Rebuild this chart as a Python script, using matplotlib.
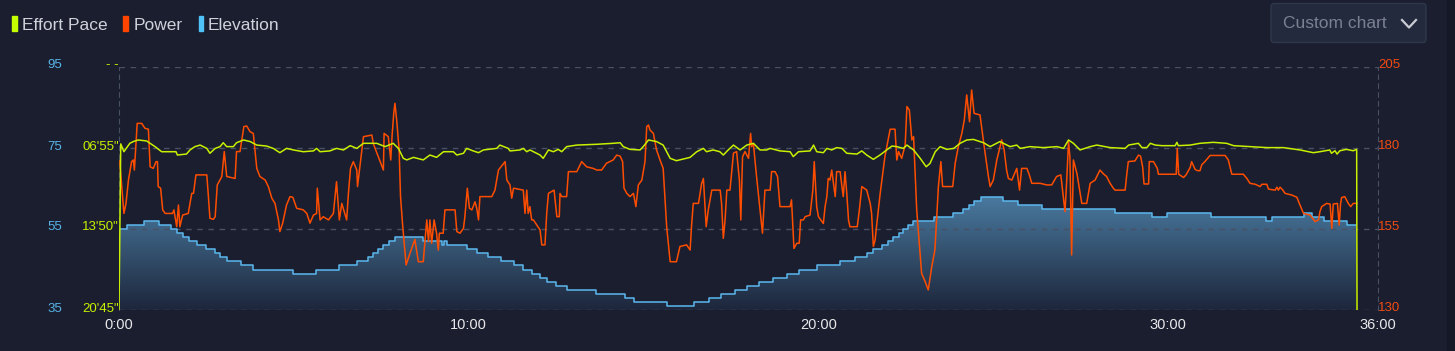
import numpy as np
import matplotlib
matplotlib.use("Agg")
import matplotlib.pyplot as plt
from matplotlib.colors import LinearSegmentedColormap
from matplotlib.patches import Rectangle, FancyBboxPatch
from matplotlib.lines import Line2D
from matplotlib.transforms import Affine2D, ScaledTranslation

plt.rcParams['font.family'] = ['Liberation Sans', 'DejaVu Sans']

# time in minutes, pace in seconds per km
pace_t = [0.0, 0.05, 0.14, 0.31, 0.41, 0.55, 0.79, 0.89, 1.03, 1.22, 1.63, 1.67, 1.93, 2.03, 2.17, 2.32, 2.51, 2.60, 2.75, 2.89,
          2.98, 3.08, 3.27, 3.36, 3.56, 3.75, 3.94, 4.22, 4.41, 4.60, 4.79, 4.99, 5.27, 5.56, 5.65, 5.75, 6.03, 6.22, 6.42, 6.61,
          6.80, 6.99, 7.37, 7.61, 7.84, 7.99, 8.13, 8.23, 8.42, 8.70,
          8.89, 9.08, 9.28, 9.56, 9.66, 9.85, 9.94, 10.13, 10.28, 10.42, 10.80, 10.89, 11.13, 11.18, 11.47, 11.56, 11.66, 11.75, 11.85, 12.04,
          12.13, 12.28, 12.42, 12.56, 12.66, 12.80, 13.09, 13.66, 14.13, 14.33, 14.42, 14.61, 14.90, 14.99, 15.14, 15.37, 15.56, 15.76, 15.94, 16.14,
          16.33, 16.52, 16.71, 16.80, 16.99, 17.18, 17.28, 17.42, 17.57, 17.76, 17.95, 18.14, 18.33, 18.52,
          18.62, 18.90, 19.19, 19.28, 19.43, 19.76, 19.86, 19.95, 20.14, 20.24, 20.38, 20.52, 20.67, 20.81, 21.10, 21.24, 21.38, 21.57, 21.76, 21.95,
          22.10, 22.24, 22.43, 22.53, 22.72, 22.91, 23.08, 23.19, 23.34, 23.48, 23.67, 23.87, 24.05, 24.24, 24.43, 24.72, 24.91, 25.19, 25.48, 25.67,
          25.77, 26.05, 26.43, 26.82, 27.01, 27.15, 27.29, 27.48, 27.77, 27.96,
          28.05, 28.34, 28.77, 28.87, 29.15, 29.25, 29.39, 29.49, 29.63, 29.82, 30.20, 30.25, 30.29, 30.63, 30.91, 31.29, 31.67, 31.87, 32.34, 32.82,
          33.29, 33.77, 34.15, 34.34, 34.62, 34.67, 34.77, 34.83, 34.91, 35.10, 35.29, 35.39, 35.40]
pace_s = [1245, 394, 434, 391, 382, 374, 379, 391, 408, 434, 434, 451, 446, 425, 408, 400, 417, 442, 417, 408,
          388, 408, 408, 388, 374, 382, 400, 405, 417, 439, 417, 425, 434, 430, 417, 434, 430, 417, 425, 403,
          417, 391, 391, 408, 391, 417, 468, 476, 463, 476,
          451, 463, 434, 434, 451, 442, 417, 430, 439, 425, 417, 400, 417, 430, 425, 417, 434, 425, 434, 451,
          468, 425, 434, 422, 434, 408, 400, 396, 391, 388, 408, 422, 425, 408, 374, 382, 400, 468, 480, 471,
          463, 434, 417, 434, 425, 434, 451, 425, 400, 425, 400, 391, 425, 425,
          417, 430, 434, 459, 434, 430, 400, 434, 439, 417, 425, 413, 417, 442, 446, 430, 451, 473, 451, 425,
          405, 408, 417, 400, 425, 468, 511, 494, 434, 408, 422, 417, 391, 374, 371, 388, 408, 382, 408, 400,
          417, 408, 413, 408, 417, 374, 391, 425, 408, 400,
          403, 413, 417, 400, 391, 413, 413, 391, 400, 403, 403, 386, 403, 400, 391, 386, 391, 403, 408, 413,
          413, 425, 439, 434, 425, 442, 429, 446, 429, 422, 429, 422, 1245]

power_t = [0.02, 0.14, 0.20, 0.27, 0.36, 0.41, 0.44, 0.52, 0.65, 0.74, 0.84, 0.89, 0.98, 1.06, 1.10, 1.12, 1.19, 1.25, 1.32, 1.53,
           1.57, 1.65, 1.70, 1.74, 1.82, 1.98, 2.08, 2.13, 2.20, 2.51, 2.55, 2.60, 2.70, 2.75, 2.81, 2.94, 3.01, 3.08, 3.32, 3.36,
           3.46, 3.57, 3.65, 3.75, 3.84, 3.94, 4.03, 4.18, 4.27, 4.37, 4.46, 4.56, 4.60, 4.68, 4.79, 4.89, 4.97, 5.08, 5.27, 5.37,
           5.46, 5.56, 5.65, 5.67, 5.75, 5.84, 5.99, 6.13, 6.22, 6.30, 6.37, 6.51, 6.56, 6.62, 6.70, 6.80, 6.82, 6.99, 7.23, 7.27,
           7.56, 7.58, 7.70, 7.77, 7.81, 7.86, 7.89, 7.94, 8.01, 8.05, 8.11, 8.21, 8.32, 8.46, 8.56, 8.70, 8.80, 8.85,
           8.89, 8.94, 9.01, 9.08, 9.13, 9.16, 9.27, 9.32, 9.61, 9.66, 9.75, 9.85, 9.89, 9.96, 10.02, 10.09, 10.18, 10.23, 10.28, 10.32,
           10.66, 10.75, 10.85, 11.04, 11.09, 11.18, 11.23, 11.28, 11.56, 11.61, 11.66, 11.70, 11.75, 11.80, 11.85, 12.04, 12.09, 12.18, 12.23, 12.28,
           12.44, 12.52, 12.59, 12.61, 12.66, 12.80, 12.85, 13.09, 13.23, 13.37, 13.56, 13.66, 13.80, 13.94, 14.13, 14.23, 14.33, 14.40, 14.44, 14.52,
           14.61, 14.71, 14.78, 14.85, 14.95, 15.04, 15.09, 15.14, 15.18, 15.28, 15.37, 15.47, 15.56, 15.66, 15.76, 15.94, 16.04, 16.23, 16.33, 16.37,
           16.42, 16.57, 16.66, 16.71, 16.79, 16.85, 16.95, 17.19, 17.23, 17.28, 17.33, 17.38, 17.47, 17.57, 17.66, 17.74, 17.78, 17.83, 17.90, 18.00,
           18.06, 18.09, 18.14, 18.23, 18.33, 18.40, 18.47,
           18.62, 18.66, 18.76, 18.83, 18.90, 19.19, 19.23, 19.30, 19.38, 19.45, 19.49, 19.57, 19.62, 19.76, 19.84, 19.88, 19.95, 20.00, 20.14, 20.19,
           20.24, 20.28, 20.33, 20.38, 20.48, 20.52, 20.62, 20.66, 20.71, 20.76, 20.81, 20.86, 20.90, 21.11, 21.17, 21.24, 21.38, 21.48, 21.52, 21.57,
           21.62, 21.67, 21.76, 21.90, 22.05, 22.19, 22.24, 22.29, 22.38, 22.48, 22.53, 22.60, 22.67, 22.72, 22.81, 22.95, 23.05, 23.14, 23.24, 23.33,
           23.43, 23.50, 23.55, 23.84, 23.91, 24.00, 24.10, 24.17, 24.24, 24.32, 24.38, 24.45, 24.62, 24.70, 24.74, 24.86, 24.91, 25.00, 25.10, 25.24,
           25.31, 25.38, 25.43, 25.53, 25.67, 25.75, 25.81, 25.96, 26.03, 26.10, 26.34, 26.53, 26.67, 26.81, 26.93, 27.05, 27.10, 27.15, 27.19, 27.24,
           27.29, 27.39, 27.53, 27.67, 27.77, 27.91,
           28.05, 28.15, 28.24, 28.34, 28.43, 28.48, 28.77, 28.81, 28.86, 29.05, 29.15, 29.21, 29.27, 29.31, 29.44, 29.46, 29.58, 29.69, 29.72, 30.23,
           30.26, 30.30, 30.44, 30.51, 30.63, 30.67, 30.77, 30.84, 30.91, 30.96, 31.05, 31.20, 31.63, 31.72, 31.82, 32.15, 32.25, 32.34, 32.49, 32.63,
           32.68, 32.82, 32.87, 33.06, 33.11, 33.15, 33.20, 33.28, 33.34, 33.53, 33.68, 33.75, 33.87, 34.06, 34.20, 34.30, 34.34, 34.39, 34.53, 34.63,
           34.68, 34.72, 34.84, 34.89, 34.93, 34.96, 35.05, 35.15, 35.22, 35.29, 35.39]
power_w = [176, 159.8, 162.9, 170.1, 175.8, 176.3, 173.2, 187.6, 187.6, 186.1, 185.8, 174.2, 173.7, 175.8, 175.8, 168.1, 167.6, 160.9, 159.8, 159.8,
           160.9, 155.7, 162.4, 155.7, 159.3, 159.8, 166.0, 166.0, 171.7, 171.7, 166.0, 158.3, 158.0, 158.8, 168.6, 171.2, 178.9, 171.2, 170.6, 178.9,
           178.9, 186.6, 186.8, 185.0, 184.5, 173.7, 171.2, 170.1, 168.1, 164.5, 162.9, 157.8, 154.2, 156.8, 162.4, 165.0, 164.8, 161.4, 160.9, 159.8,
           156.8, 159.3, 159.8, 167.6, 157.8, 158.8, 157.8, 159.8, 169.6, 157.8, 162.9, 157.8, 166.0, 173.7, 175.8, 173.2, 168.1, 183.5, 184.0, 181.4,
           173.2, 184.5, 183.5, 176.3, 184.0, 191.2, 193.8, 188.6, 179.4, 165.0, 156.2, 143.9, 147.5, 151.8, 144.9, 144.9, 157.8, 151.1,
           157.8, 150.6, 157.8, 153.7, 148.5, 153.7, 153.7, 160.9, 160.9, 154.2, 153.7, 155.2, 158.8, 167.6, 161.4, 160.9, 163.4, 161.4, 157.8, 165.0,
           165.0, 167.0, 173.2, 175.8, 170.1, 168.6, 164.5, 167.6, 167.0, 159.8, 167.0, 159.8, 161.9, 157.8, 157.8, 154.7, 150.1, 150.1, 159.8, 166.0,
           167.0, 158.8, 158.8, 166.0, 165.0, 165.0, 172.7, 172.7, 175.8, 174.2, 173.7, 173.2, 173.2, 175.3, 176.3, 177.8, 177.5, 175.8, 167.6, 166.0,
           165.0, 166.0, 161.9, 168.6, 170.1, 175.8, 186.6, 187.1, 185.6, 184.5, 179.4, 176.3, 173.7, 155.7, 144.9, 144.9, 149.6, 150.1, 148.5, 155.7,
           162.9, 162.9, 169.1, 170.6, 155.7, 160.9, 167.0, 167.0, 162.9, 152.1, 157.8, 167.0, 167.0, 178.4, 178.9, 170.1, 157.8, 177.3, 178.9, 176.8,
           184.5, 180.4, 181.4, 171.2, 160.9, 153.7, 167.0,
           167.0, 172.7, 172.7, 171.2, 161.9, 161.9, 164.0, 149.0, 150.6, 150.6, 157.8, 157.8, 158.8, 159.3, 167.0, 175.8, 161.9, 158.8, 156.7, 161.9,
           165.0, 170.6, 170.1, 173.2, 165.0, 172.7, 172.7, 169.1, 165.0, 172.7, 166.0, 157.8, 155.7, 155.7, 160.9, 168.1, 167.0, 162.9, 159.8, 149.6,
           151.6, 156.7, 165.5, 177.3, 185.8, 185.8, 176.3, 178.9, 176.8, 180.9, 192.8, 191.7, 182.5, 183.5, 160.9, 141.3, 138.8, 136.2, 143.4, 148.5,
           168.1, 175.8, 168.1, 168.1, 175.3, 180.4, 184.5, 188.6, 196.4, 188.1, 197.9, 190.7, 190.2, 183.5, 180.4, 171.2, 168.1, 170.1, 176.3, 182.5,
           179.4, 173.2, 170.6, 170.1, 173.7, 167.0, 173.7, 173.7, 171.7, 169.1, 169.1, 168.6, 168.6, 171.2, 171.7, 160.4, 170.1, 182.0, 177.3, 147.0,
           176.3, 172.2, 162.9, 162.9, 169.1, 170.1,
           173.2, 172.0, 171.2, 169.1, 167.6, 167.0, 167.0, 171.2, 175.8, 176.0, 177.8, 177.5, 174.2, 168.9, 168.9, 175.8, 175.8, 173.7, 171.9, 171.9,
           179.9, 171.9, 170.9, 171.7, 174.0, 175.8, 173.4, 173.0, 173.0, 174.8, 175.8, 177.7, 177.7, 176.3, 171.9, 171.9, 170.6, 169.1, 168.8, 168.1,
           168.8, 168.8, 167.3, 167.0, 167.9, 167.0, 167.9, 167.0, 166.0, 165.5, 164.8, 162.9, 159.8, 159.3, 157.3, 157.8, 160.4, 161.9, 162.9, 162.7,
           155.2, 162.7, 162.9, 156.2, 162.9, 164.7, 165.0, 162.9, 161.9, 162.9, 162.9]

elev_t = [0, 0.22, 0.72, 1.15, 1.48, 1.67, 1.82, 1.99, 2.24, 2.49, 2.75, 2.89, 3.08, 3.49, 3.82, 4.97, 5.62, 6.28, 6.80, 7.13,
          7.27, 7.42, 7.55, 7.71, 7.89, 8.70, 9.23, 9.30, 9.38, 9.96, 10.23, 10.56, 10.91, 11.30, 11.56, 11.80, 12.04, 12.23, 12.50, 12.82,
          13.63, 14.47, 14.73, 15.66, 16.45, 16.88, 17.21, 17.62, 17.95, 18.30, 18.71, 19.09, 19.45, 19.95, 20.62, 21.05, 21.38, 21.57, 21.81, 22.00,
          22.14, 22.29, 22.41, 22.57, 22.71, 23.29, 23.86, 24.14, 24.31, 24.45, 24.64, 25.29, 25.72, 26.38, 28.48, 29.55, 29.96, 31.23, 32.80, 32.96,
          33.87, 34.11, 34.47, 35.11, 35.37]
elev_m = [55, 56, 57, 56, 55, 54, 53, 52, 51, 50, 49, 48, 47, 46, 45, 44, 45, 46, 47, 48,
          49, 50, 51, 52, 53, 52, 51, 52, 51, 50, 49, 48, 47, 46, 45, 44, 43, 42, 41, 40,
          39, 38, 37, 36, 37, 38, 39, 40, 41, 42, 43, 44, 45, 46, 47, 48, 49, 50, 51, 52,
          53, 54, 55, 56, 57, 58, 59, 60, 61, 62, 63, 62, 61, 60, 59, 58, 59, 58, 57, 58,
          59, 58, 57, 56, 56]

x_ticks = [0, 10, 20, 30, 36]
elev_ticks = [35, 55, 75, 95]
power_ticks = [130, 155, 180, 205]
pace_ticks = [0, 415, 830, 1245]

BG = '#1a1e2f'
GRID = '#485064'
PACE_C = '#c8f000'
POWER_C = '#ff4d00'
ELEV_C = '#5bb8ee'

W, H = 1455, 351
fig = plt.figure(figsize=(W / 100, H / 100), dpi=100, facecolor=BG)
# pixel coords with origin at top-left, for decorations
px = Affine2D().scale(0.01, -0.01).translate(0, H / 100) + fig.dpi_scale_trans

ax = fig.add_axes([119 / W, 1 - 310 / H, (1378 - 119) / W, (310 - 67) / H])
ax.set_facecolor(BG)
ax_pow = ax.twinx()
ax_pace = ax.twinx()

# elevation: gradient fill under a stepped line
poly = ax.fill_between(elev_t, elev_m, 35, step='post', facecolor='none', edgecolor='none')
cmap = LinearSegmentedColormap.from_list('elev', ['#1d263b', '#4d80a7'])
grad = np.linspace(0, 1, 256).reshape(-1, 1)
img = ax.imshow(grad, cmap=cmap, origin='lower', aspect='auto', extent=[0, 36, 35, 65], zorder=1)
img.set_clip_path(poly.get_paths()[0], transform=ax.transData)
ax.step(elev_t, elev_m, where='post', color=ELEV_C, lw=1.1, zorder=2)

ax_pow.plot(power_t, power_w, color=POWER_C, lw=1.1)
ax_pace.plot(pace_t, pace_s, color=PACE_C, lw=1.1)

ax.set_xlim(0, 36)
ax.set_ylim(35, 95)
ax_pow.set_ylim(130, 205)
ax_pace.set_ylim(1245, 0)

ax.set_xticks(x_ticks)
ax.set_xticklabels([f"{m}:00" for m in x_ticks])
ax.set_yticks(elev_ticks)
ax_pow.set_yticks(power_ticks)
ax_pace.set_yticks(pace_ticks)
ax_pace.set_yticklabels(['- -'] + [f"{s // 60:02d}'{s % 60:02d}\"" for s in pace_ticks[1:]])
ax_pace.yaxis.set_ticks_position('left')

ax.tick_params(axis='x', length=0, pad=6, labelcolor='#e8e8ea', labelsize=10.5)
ax.tick_params(axis='y', length=0, pad=41, labelcolor='#58b4e8', labelsize=9.5)
ax_pow.tick_params(axis='y', length=0, pad=0, labelcolor='#f24b12', labelsize=9.5)
ax_pace.tick_params(axis='y', length=0, pad=0, labelcolor=PACE_C, labelsize=9.5)

ax.grid(axis='y', color=GRID, linestyle=(0, (4, 4)), lw=1)
for a in (ax, ax_pow, ax_pace):
    for s in a.spines.values():
        s.set_visible(False)
for side in ('left', 'right'):
    ax.spines[side].set_visible(True)
    ax.spines[side].set_color(GRID)
    ax.spines[side].set_linestyle((0, (4, 4)))

shift = ScaledTranslation(0, 0.03, fig.dpi_scale_trans)
for a in (ax, ax_pow, ax_pace):
    for lab in a.get_yticklabels():
        lab.set_transform(lab.get_transform() + shift)

# legend
legend = [('Effort Pace', '#c6ff00', 12, 22), ('Power', '#ff4500', 123, 134), ('Elevation', '#4fc3f7', 198.5, 208)]
for name, col, rx, tx in legend:
    fig.add_artist(Rectangle((rx, 16), 4.5, 14.5, transform=px, color=col))
    fig.text(tx, 29.5, name, transform=px, color='#cfd2da', fontsize=12.5, va='baseline')

# "Custom chart" dropdown button
fig.add_artist(FancyBboxPatch((1271, 3.5), 155, 39, boxstyle='round,pad=0,rounding_size=3',
                              transform=px, facecolor='#232a3d', edgecolor='#2f374b', lw=1))
fig.text(1283, 28.5, 'Custom chart', transform=px, color='#7b8191', fontsize=12.5, va='baseline')
fig.add_artist(Line2D([1402, 1409, 1416], [20, 27.5, 20], transform=px, color='#c9ccd3', lw=1.6))

fig.add_artist(Rectangle((1447, 0), 8, H, transform=px, color='#141827'))

fig.savefig('out.png', dpi=100, facecolor=BG)
